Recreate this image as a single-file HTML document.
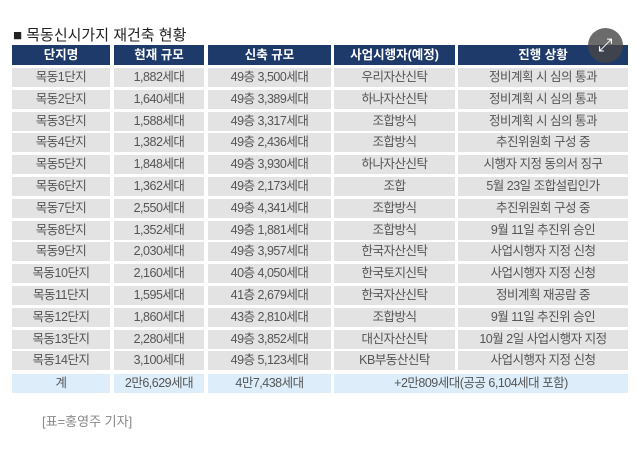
<!DOCTYPE html><html><head><meta charset="utf-8"><style>
body{margin:0;width:640px;height:449px;background:#fff;font-family:"Liberation Sans","Noto Sans CJK KR",sans-serif;position:relative;overflow:hidden}
.c{position:absolute;height:19px;line-height:19px;text-align:center;font-size:12.5px;color:#555;background:#e3e3e3;letter-spacing:-0.5px}
.h{background:#1e3a6a;color:#fff;font-weight:bold;height:20px;line-height:20px;font-size:12.5px;letter-spacing:0}
.t{background:#ddeefa}
</style></head><body>
<div style="position:absolute;left:13px;top:24px;font-size:15px;color:#222">■ 목동신시가지 재건축 현황</div>
<div id="g"></div>
<div style="position:absolute;left:42px;top:411px;font-size:13px;color:#888">[표=홍영주 기자]</div>
<div style="position:absolute;left:588px;top:28px;width:35px;height:35px;border-radius:50%;background:rgba(70,70,70,0.8);color:#fff;font-size:18px;line-height:35px;text-align:center">⤢</div>
<script>
var X=[[12,98],[114,90],[208,123],[334,121],[458,170]];
var H=["단지명","현재 규모","신축 규모","사업시행자(예정)","진행 상황"];
var R=[["목동1단지","1,882세대","49층 3,500세대","우리자산신탁","정비계획 시 심의 통과"],
["목동2단지","1,640세대","49층 3,389세대","하나자산신탁","정비계획 시 심의 통과"],
["목동3단지","1,588세대","49층 3,317세대","조합방식","정비계획 시 심의 통과"],
["목동4단지","1,382세대","49층 2,436세대","조합방식","추진위원회 구성 중"],
["목동5단지","1,848세대","49층 3,930세대","하나자산신탁","시행자 지정 동의서 징구"],
["목동6단지","1,362세대","49층 2,173세대","조합","5월 23일 조합설립인가"],
["목동7단지","2,550세대","49층 4,341세대","조합방식","추진위원회 구성 중"],
["목동8단지","1,352세대","49층 1,881세대","조합방식","9월 11일 추진위 승인"],
["목동9단지","2,030세대","49층 3,957세대","한국자산신탁","사업시행자 지정 신청"],
["목동10단지","2,160세대","40층 4,050세대","한국토지신탁","사업시행자 지정 신청"],
["목동11단지","1,595세대","41층 2,679세대","한국자산신탁","정비계획 재공람 중"],
["목동12단지","1,860세대","43층 2,810세대","조합방식","9월 11일 추진위 승인"],
["목동13단지","2,280세대","49층 3,852세대","대신자산신탁","10월 2일 사업시행자 지정"],
["목동14단지","3,100세대","49층 5,123세대","KB부동산신탁","사업시행자 지정 신청"]];
var s="";
for(var j=0;j<5;j++)s+='<div class="c h" style="left:'+X[j][0]+'px;top:45px;width:'+X[j][1]+'px">'+H[j]+'</div>';
for(var i=0;i<14;i++){var y=68+i*21.8;for(var j=0;j<5;j++)s+='<div class="c" style="left:'+X[j][0]+'px;top:'+y+'px;width:'+X[j][1]+'px">'+R[i][j]+'</div>';}
var y=374;
s+='<div class="c t" style="left:12px;top:'+y+'px;width:98px">계</div>';
s+='<div class="c t" style="left:114px;top:'+y+'px;width:90px">2만6,629세대</div>';
s+='<div class="c t" style="left:208px;top:'+y+'px;width:123px">4만7,438세대</div>';
s+='<div class="c t" style="left:334px;top:'+y+'px;width:294px">+2만809세대(공공 6,104세대 포함)</div>';
document.getElementById("g").innerHTML=s;
</script>
</body></html>
